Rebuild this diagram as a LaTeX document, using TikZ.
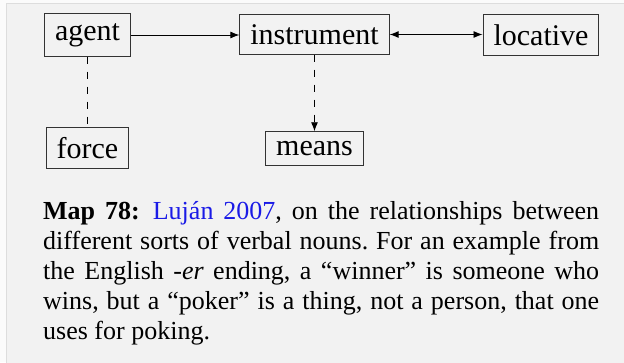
\documentclass[tikz,border=0pt]{standalone}
\usepackage{fontspec}
\setmainfont{Liberation Serif}
\usetikzlibrary{arrows.meta}
\definecolor{panelbg}{HTML}{F2F2F2}
\definecolor{panelline}{HTML}{DDDDDD}
\definecolor{outerbg}{HTML}{FBFBFB}
\definecolor{boxline}{HTML}{333333}
\definecolor{linkblue}{HTML}{1A1AE6}
\begin{document}
\begin{tikzpicture}[x=1pt,y=-1pt,
  concept/.style={draw=boxline, line width=1pt, inner xsep=10.5pt, inner ysep=9.5pt,
    font=\fontsize{30}{36}\selectfont, text=black},
  link/.style={line width=0.9pt, draw=black},
  tip/.style={-{Latex[length=9pt,width=7pt]}},
  bothtips/.style={{Latex[length=9pt,width=7pt]}-{Latex[length=9pt,width=7pt]}},
  dashlink/.style={link, dash pattern=on 7pt off 8pt},
  caption/.style={inner sep=0pt, text width=556pt, align=justify, anchor=north west,
    font=\fontsize{26}{30}\selectfont}
]
\useasboundingbox (0,0) rectangle (624,362);
\fill[outerbg] (0,0) rectangle (624,362);
\filldraw[fill=panelbg, draw=panelline, line width=1pt] (6.5,3.5) rectangle (630,370);

\node[concept] (agent) at (87.5,35) {agent};
\node[concept] (instrument) at (314.5,34.5) {instrument};
\node[concept] (locative) at (541,35) {locative};
\node[concept] (force) at (87.5,148) {force};
\node[concept] (means) at (314.5,148.5) {means};

\draw[link, tip] (agent.east) -- (agent.east -| instrument.west);
\draw[link, bothtips] (instrument.east) -- (instrument.east -| locative.west);
\draw[dashlink, tip] (instrument.south) -- (means.north);
\draw[dashlink] (agent.south) -- (force.north);

\node[caption] (cap) at (43,201.5) {\frenchspacing\hyphenpenalty=10000\noindent\textbf{Map 78:}\enspace\textcolor{linkblue}{Luján 2007}, on the relationships between\linebreak different sorts of verbal nouns. For an example from\linebreak the English \textit{-er} ending, a “winner” is someone who\linebreak wins, but a “poker” is a thing, not a person, that one\linebreak uses for poking.};
\end{tikzpicture}
\end{document}
